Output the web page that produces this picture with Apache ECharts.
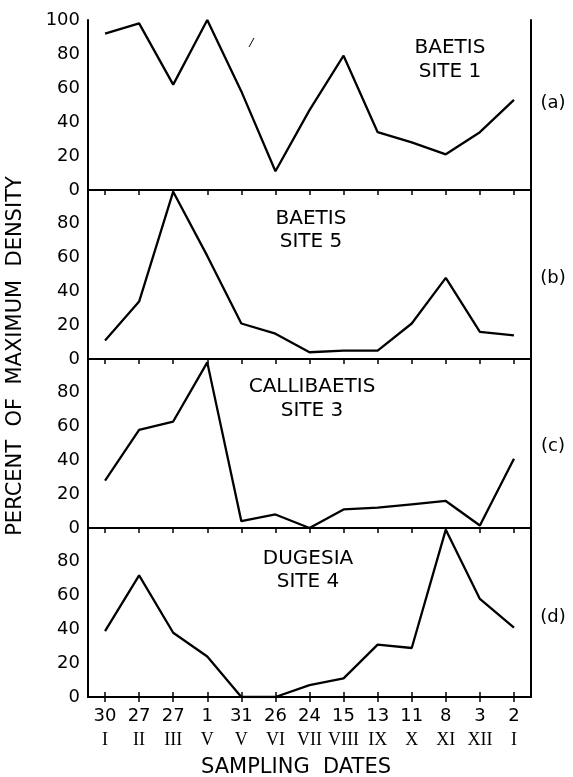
<!DOCTYPE html>
<html>
<head>
<meta charset="utf-8">
<script src="https://cdn.jsdelivr.net/npm/echarts@6/dist/echarts.min.js"></script>
<style>html,body{margin:0;padding:0;background:#fff}#c{width:573px;height:777px}</style>
</head>
<body>
<div id="c"></div>
<script>
const days = ['30','27','27','1','31','26','24','15','13','11','8','3','2'];
const months = ['I','II','III','V','V','VI','VII','VIII','IX','X','XI','XII','I'];
const baetis1 = [92, 98, 62, 100, 58, 11, 47, 79, 34, 28, 21, 34, 53];
const baetis5 = [11, 34, 99, 61, 21, 15, 4, 5, 5, 21, 48, 16, 14];
const callibaetis3 = [28, 58, 63, 98, 4, 8, 0, 11, 12, 14, 16, 1.5, 41];
const dugesia4 = [39, 72, 38, 24, 0, 0, 7, 11, 31, 29, 99, 58, 41];
const yTicks = [0, 20, 40, 60, 80, 100];
const panelNames = [['BAETIS','SITE 1'],['BAETIS','SITE 5'],['CALLIBAETIS','SITE 3'],['DUGESIA','SITE 4']];
const panelTags = ['(a)','(b)','(c)','(d)'];
const seriesData = [baetis1, baetis5, callibaetis3, dugesia4];

const FONT = 'DejaVu Sans';
const grids = [
  {left: 88, right: 42, top: 20, height: 170},
  {left: 88, right: 42, top: 190, height: 169},
  {left: 88, right: 42, top: 359, height: 169},
  {left: 88, right: 42, top: 528, height: 169}
];
const axLine = {show: true, lineStyle: {color: '#000', width: 2}};
const xAxis = [], yAxis = [], series = [];
grids.forEach((g, i) => {
  const last = i === 3;
  xAxis.push({
    type: 'category', gridIndex: i, data: days, position: 'bottom', boundaryGap: true,
    axisLine: axLine,
    axisTick: {show: last, inside: true, alignWithLabel: true, length: 5, lineStyle: {color: '#000', width: 1.5}},
    axisLabel: last ? {
      show: true, margin: 8, interval: 0,
      formatter: (v, idx) => '{d|' + v + '}\n{r|' + months[idx] + '}',
      rich: {
        d: {fontFamily: FONT, fontSize: 18, color: '#000', lineHeight: 22},
        r: {fontFamily: 'Liberation Serif', fontSize: 18, color: '#000', lineHeight: 26}
      }
    } : {show: false},
    splitLine: {show: false}
  });
  xAxis.push({
    type: 'category', gridIndex: i, data: days, position: 'top', boundaryGap: true,
    axisLine: axLine,
    axisTick: {show: true, inside: true, alignWithLabel: true, length: 5, lineStyle: {color: '#000', width: 1.5}},
    axisLabel: {show: false}, splitLine: {show: false}
  });
  yAxis.push({
    type: 'value', gridIndex: i, min: 0, max: 100, interval: 20, position: 'left',
    axisLine: axLine, axisTick: {show: false}, splitLine: {show: false},
    axisLabel: {
      margin: 8, fontFamily: FONT, fontSize: 18, color: '#000',
      formatter: v => (i > 0 && v === 100) ? '' : String(v)
    }
  });
  yAxis.push({
    type: 'value', gridIndex: i, min: 0, max: 100, interval: 20, position: 'right',
    axisLine: axLine, axisTick: {show: false}, splitLine: {show: false}, axisLabel: {show: false}
  });
  series.push({
    type: 'line', xAxisIndex: i * 2, yAxisIndex: i * 2, data: seriesData[i],
    showSymbol: false, symbol: 'none', smooth: false,
    lineStyle: {color: '#000', width: 2.3}, itemStyle: {color: '#000'},
    animation: false, silent: true
  });
});

const nameLayout = [
  {x: 450, y1: 48, y2: 72},
  {x: 311, y1: 219, y2: 242},
  {x: 312, y1: 387, y2: 411},
  {x: 308, y1: 559, y2: 582}
];
const tagY = [103, 278, 446, 617];
const graphic = [];
panelNames.forEach((n, i) => {
  const L = nameLayout[i];
  graphic.push({type: 'text', x: L.x, y: L.y1, style: {text: n[0], fontFamily: FONT, fontSize: 20, fill: '#000', align: 'center', verticalAlign: 'middle'}});
  graphic.push({type: 'text', x: L.x, y: L.y2, style: {text: n[1], fontFamily: FONT, fontSize: 20, fill: '#000', align: 'center', verticalAlign: 'middle'}});
  graphic.push({type: 'text', x: 553, y: tagY[i], style: {text: panelTags[i], fontFamily: FONT, fontSize: 18, fill: '#000', align: 'center', verticalAlign: 'middle'}});
});
graphic.push({type: 'text', x: 296, y: 768, style: {text: 'SAMPLING  DATES', fontFamily: FONT, fontSize: 21, fill: '#000', align: 'center', verticalAlign: 'middle'}});
graphic.push({type: 'text', x: 16, y: 356, rotation: Math.PI / 2, style: {text: 'PERCENT  OF  MAXIMUM  DENSITY', fontFamily: FONT, fontSize: 21, fill: '#000', align: 'center', verticalAlign: 'middle'}});
graphic.push({type: 'line', shape: {x1: 249, y1: 47, x2: 254, y2: 38}, style: {stroke: '#000', lineWidth: 1}});

const chart = echarts.init(document.getElementById('c'), null, {renderer: 'canvas'});
chart.setOption({
  animation: false,
  backgroundColor: '#fff',
  grid: grids,
  xAxis: xAxis,
  yAxis: yAxis,
  series: series,
  graphic: graphic
});
</script>
</body>
</html>
